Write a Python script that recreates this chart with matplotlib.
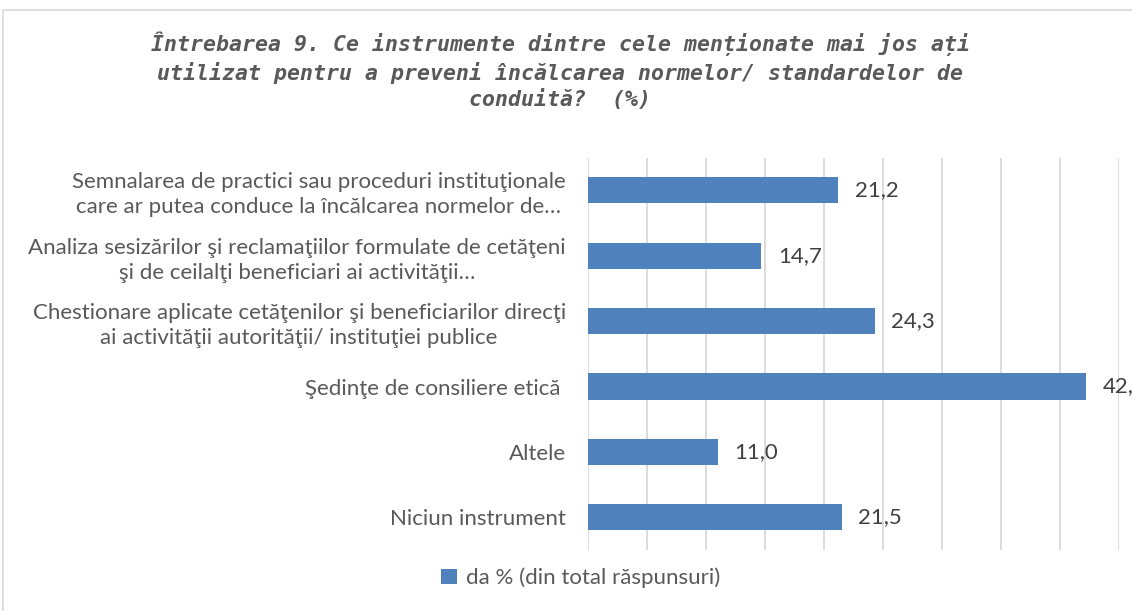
import matplotlib
matplotlib.use('Agg')
import matplotlib.pyplot as plt
from matplotlib.patches import Rectangle

# date
categorii = [
    'Semnalarea de practici sau proceduri instituţionale\ncare ar putea conduce la încălcarea normelor de…',
    'Analiza sesizărilor şi reclamaţiilor formulate de cetăţeni\nşi de ceilalţi beneficiari ai activităţii…',
    'Chestionare aplicate cetăţenilor şi beneficiarilor direcţi\nai activităţii autorităţii/ instituţiei publice',
    'Şedinţe de consiliere etică ',
    'Altele',
    'Niciun instrument',
]
valori = [21.2, 14.7, 24.3, 42.2, 11.0, 21.5]
etichete_valori = ['21,2', '14,7', '24,3', '42,2', '11,0', '21,5']
serie = 'da % (din total răspunsuri)'
titlu = ('Întrebarea 9. Ce instrumente dintre cele menționate mai jos ați\n'
         'utilizat pentru a preveni încălcarea normelor/ standardelor de\n'
         'conduită?  (%)')

albastru = '#4F81BD'
gri_text = '#595959'

W, H = 1132, 611
fig = plt.figure(figsize=(W / 100, H / 100), dpi=100)

# chenarul graficului
fig.patches.append(Rectangle((3 / W, -0.1), 1.2, 1 - 10 / H + 0.1, transform=fig.transFigure,
                             fill=False, edgecolor='#d9d9d9', lw=1.2))

ax = fig.add_axes([588 / W, 1 - 550 / H, (1119 - 588) / W, (550 - 157.6) / H])
y = list(range(len(categorii)))
bare = ax.barh(y, valori, height=0.4, color=albastru, label=serie)
ax.set_xlim(0, 45)
ax.set_ylim(len(categorii) - 0.5, -0.5)
ax.set_xticks(range(0, 46, 5))
ax.xaxis.grid(True, color='#d9d9d9', lw=1.3)
ax.set_axisbelow(True)
ax.tick_params(axis='x', labelbottom=False, length=0)
ax.tick_params(axis='y', length=0, pad=16)
ax.set_yticks(y)
ax.set_yticklabels(categorii, fontsize=16, color=gri_text, family='Lato')
for t in ax.get_yticklabels():
    t.set_multialignment('center')
    t.set_linespacing(1.3)
for s in ax.spines.values():
    s.set_visible(False)

for b, txt in zip(bare, etichete_valori):
    ax.annotate(txt, (b.get_width(), b.get_y() + b.get_height() / 2), xytext=(12, 0),
                textcoords='offset points', va='center', ha='left', fontsize=16,
                color='#404040', family='Lato', annotation_clip=False)

fig.text(0.495, 1 - 71 / H, titlu, ha='center', va='center', fontsize=15.5,
         family='DejaVu Sans Mono', style='oblique', weight='bold', color=gri_text,
         linespacing=1.3)

fig.legend(loc='center', bbox_to_anchor=(0.513, 0.054), frameon=False, handlelength=0.7,
           handleheight=0.7, handletextpad=0.4, prop={'family': 'Lato', 'size': 16},
           labelcolor=gri_text)

fig.savefig('out.png', dpi=100)
